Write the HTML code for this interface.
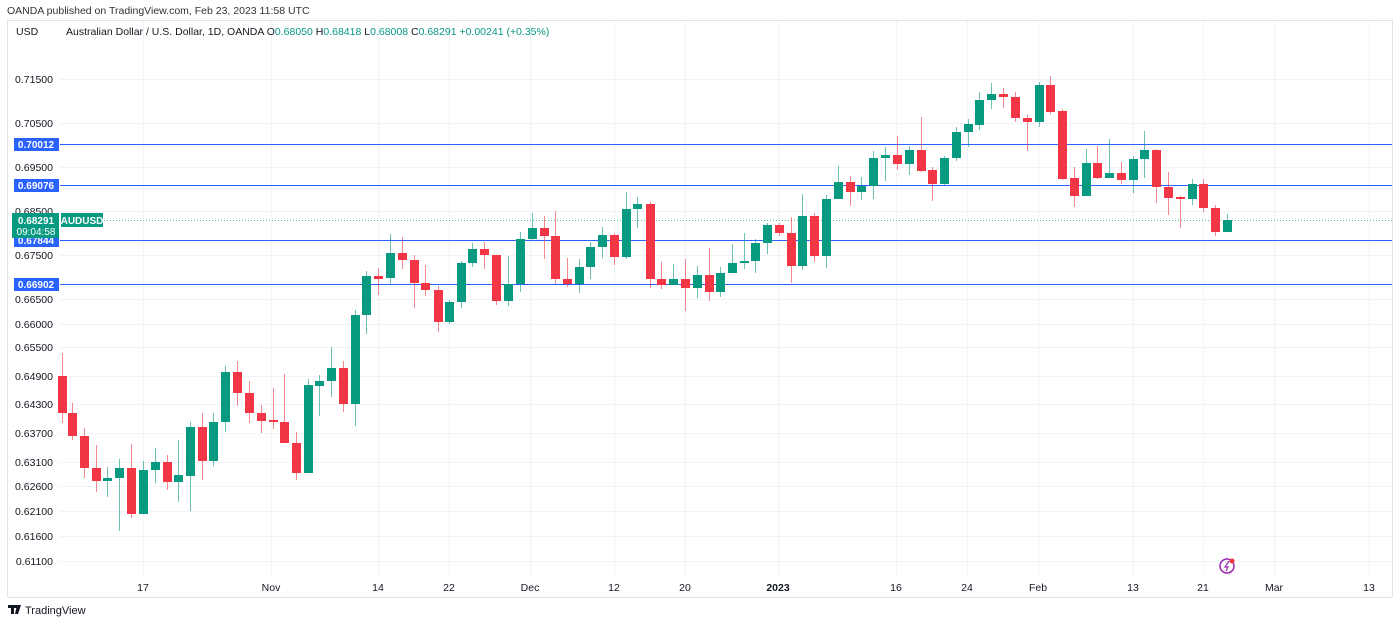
<!DOCTYPE html>
<html><head><meta charset="utf-8"><style>
body{margin:0;background:#fff;width:1400px;height:624px;overflow:hidden;font-family:"Liberation Sans",sans-serif}
</style></head><body>
<svg width="1400" height="624" xmlns="http://www.w3.org/2000/svg" font-family="Liberation Sans, sans-serif">
<text x="7" y="14" font-size="10.5" fill="#333">OANDA published on TradingView.com, Feb 23, 2023 11:58 UTC</text>
<rect x="7.5" y="20.5" width="1385" height="577" fill="none" stroke="#e0e3eb"/>
<g stroke="#f0f3fa" stroke-width="1">
<line x1="60" x2="1392" y1="79.5" y2="79.5"/><line x1="60" x2="1392" y1="123.5" y2="123.5"/><line x1="60" x2="1392" y1="167.5" y2="167.5"/><line x1="60" x2="1392" y1="211.5" y2="211.5"/><line x1="60" x2="1392" y1="255.5" y2="255.5"/><line x1="60" x2="1392" y1="299.5" y2="299.5"/><line x1="60" x2="1392" y1="324.5" y2="324.5"/><line x1="60" x2="1392" y1="347.5" y2="347.5"/><line x1="60" x2="1392" y1="376.5" y2="376.5"/><line x1="60" x2="1392" y1="404.5" y2="404.5"/><line x1="60" x2="1392" y1="433.5" y2="433.5"/><line x1="60" x2="1392" y1="462.5" y2="462.5"/><line x1="60" x2="1392" y1="486.5" y2="486.5"/><line x1="60" x2="1392" y1="511.5" y2="511.5"/><line x1="60" x2="1392" y1="536.5" y2="536.5"/><line x1="60" x2="1392" y1="561.5" y2="561.5"/>
<line x1="143.5" x2="143.5" y1="21" y2="575"/><line x1="271.5" x2="271.5" y1="21" y2="575"/><line x1="378.5" x2="378.5" y1="21" y2="575"/><line x1="449.5" x2="449.5" y1="21" y2="575"/><line x1="530.5" x2="530.5" y1="21" y2="575"/><line x1="614.5" x2="614.5" y1="21" y2="575"/><line x1="685.5" x2="685.5" y1="21" y2="575"/><line x1="778.5" x2="778.5" y1="21" y2="575"/><line x1="896.5" x2="896.5" y1="21" y2="575"/><line x1="967.5" x2="967.5" y1="21" y2="575"/><line x1="1038.5" x2="1038.5" y1="21" y2="575"/><line x1="1133.5" x2="1133.5" y1="21" y2="575"/><line x1="1203.5" x2="1203.5" y1="21" y2="575"/><line x1="1274.5" x2="1274.5" y1="21" y2="575"/><line x1="1369.5" x2="1369.5" y1="21" y2="575"/>
</g>
<text x="16" y="35" font-size="10.5" fill="#131722">USD</text>
<text x="66" y="35" font-size="10.5" fill="#131722">Australian Dollar / U.S. Dollar, 1D, OANDA  O<tspan fill="#089981">0.68050</tspan>  H<tspan fill="#089981">0.68418</tspan>  L<tspan fill="#089981">0.68008</tspan>  C<tspan fill="#089981">0.68291  +0.00241 (+0.35%)</tspan></text>
<g font-size="10.5" fill="#131722" text-anchor="end">
<text x="53" y="83">0.71500</text><text x="53" y="127">0.70500</text><text x="53" y="171">0.69500</text><text x="53" y="215">0.68500</text><text x="53" y="259">0.67500</text><text x="53" y="303">0.66500</text><text x="53" y="328">0.66000</text><text x="53" y="351">0.65500</text><text x="53" y="380">0.64900</text><text x="53" y="408">0.64300</text><text x="53" y="437">0.63700</text><text x="53" y="466">0.63100</text><text x="53" y="490">0.62600</text><text x="53" y="515">0.62100</text><text x="53" y="540">0.61600</text><text x="53" y="565">0.61100</text>
</g>
<g stroke="#2962ff" stroke-width="1">
<line x1="60" x2="1392" y1="144.5" y2="144.5"/><line x1="60" x2="1392" y1="185.5" y2="185.5"/><line x1="60" x2="1392" y1="240.5" y2="240.5"/><line x1="60" x2="1392" y1="284.5" y2="284.5"/>
</g>
<line x1="104" x2="1392" y1="220.5" y2="220.5" stroke="#089981" stroke-dasharray="1,2" opacity="0.7"/>
<path fill="none" stroke="#f23645" stroke-opacity="0.6" d="M62.5 353V423M72.5 403V440M84.5 428V478M96.5 445V492M131.5 444V518M167.5 455V490M202.5 413V480M237.5 361V406M249.5 381V423M261.5 405V433M273.5 388V429M284.5 374V443M296.5 432V480M343.5 361V412M378.5 268V295M402.5 237V269M414.5 255V308M425.5 265V296M438.5 286V332M484.5 242V269M496.5 255V305M544.5 216V259M555.5 211V284M567.5 258V287M614.5 233V265M650.5 202V288M661.5 262V289M685.5 259V311M709.5 248V301M779.5 223V236M791.5 217V283M814.5 213V262M850.5 176V206M897.5 136V170M921.5 117V172M932.5 167V201M1003.5 88V108M1015.5 92V122M1027.5 115V151M1050.5 76V114M1062.5 109V180M1074.5 167V207M1097.5 146V179M1121.5 162V184M1156.5 149V203M1168.5 172V215M1180.5 196V228M1203.5 179V212M1215.5 205V236"/>
<path fill="#f23645" d="M58 376h9v37h-9zM68 413h9v23h-9zM80 436h9v32h-9zM92 468h9v13h-9zM127 468h9v46h-9zM163 462h9v20h-9zM198 427h9v34h-9zM233 372h9v21h-9zM245 393h9v20h-9zM257 413h9v8h-9zM269 420h9v2h-9zM280 422h9v21h-9zM292 443h9v30h-9zM339 368h9v36h-9zM374 276h9v3h-9zM398 253h9v7h-9zM410 260h9v23h-9zM421 283h9v7h-9zM434 290h9v32h-9zM480 249h9v6h-9zM492 255h9v46h-9zM540 228h9v8h-9zM551 236h9v43h-9zM563 279h9v5h-9zM610 235h9v22h-9zM646 204h9v75h-9zM657 279h9v6h-9zM681 279h9v9h-9zM705 275h9v17h-9zM775 225h9v8h-9zM787 233h9v33h-9zM810 216h9v40h-9zM846 182h9v10h-9zM893 155h9v9h-9zM917 150h9v21h-9zM928 170h9v14h-9zM999 94h9v3h-9zM1011 97h9v21h-9zM1023 118h9v4h-9zM1046 85h9v27h-9zM1058 111h9v68h-9zM1070 178h9v18h-9zM1093 163h9v15h-9zM1117 173h9v7h-9zM1152 150h9v37h-9zM1164 187h9v11h-9zM1176 197h9v2h-9zM1199 184h9v24h-9zM1211 208h9v24h-9z"/>
<path fill="none" stroke="#089981" stroke-opacity="0.6" d="M107.5 467V497M119.5 459V531M143.5 461V514M155.5 448V483M178.5 440V502M190.5 422V511M213.5 413V466M225.5 366V432M308.5 379V473M319.5 375V416M331.5 347V397M355.5 310V426M366.5 271V334M390.5 234V285M449.5 300V324M461.5 261V308M472.5 243V267M508.5 256V306M520.5 232V292M532.5 213V241M579.5 259V293M590.5 242V279M602.5 227V258M626.5 192V259M637.5 197V228M673.5 264V285M697.5 266V298M720.5 267V297M732.5 244V273M744.5 233V269M755.5 239V273M767.5 223V254M802.5 194V270M826.5 195V268M838.5 166V199M861.5 177V200M873.5 151V199M885.5 147V181M909.5 146V175M944.5 156V185M956.5 127V161M968.5 119V147M979.5 92V130M991.5 83V109M1039.5 82V127M1086.5 149V196M1109.5 139V178M1133.5 156V193M1144.5 131V178M1192.5 179V205M1227.5 214V232"/>
<path fill="#089981" d="M103 478h9v3h-9zM115 468h9v10h-9zM139 470h9v44h-9zM151 462h9v8h-9zM174 475h9v7h-9zM186 427h9v49h-9zM209 422h9v39h-9zM221 372h9v50h-9zM304 385h9v88h-9zM315 381h9v5h-9zM327 368h9v13h-9zM351 315h9v89h-9zM362 276h9v39h-9zM386 253h9v25h-9zM445 302h9v20h-9zM457 263h9v39h-9zM468 249h9v14h-9zM504 284h9v17h-9zM516 239h9v45h-9zM528 228h9v11h-9zM575 267h9v17h-9zM586 247h9v20h-9zM598 235h9v12h-9zM622 209h9v48h-9zM633 204h9v5h-9zM669 279h9v6h-9zM693 275h9v13h-9zM716 273h9v19h-9zM728 263h9v10h-9zM740 261h9v2h-9zM751 243h9v18h-9zM763 225h9v18h-9zM798 216h9v50h-9zM822 199h9v57h-9zM834 182h9v17h-9zM857 186h9v6h-9zM869 158h9v28h-9zM881 155h9v3h-9zM905 150h9v14h-9zM940 158h9v26h-9zM952 132h9v26h-9zM964 124h9v8h-9zM975 100h9v25h-9zM987 94h9v6h-9zM1035 85h9v37h-9zM1082 163h9v33h-9zM1105 173h9v5h-9zM1129 159h9v21h-9zM1140 150h9v9h-9zM1188 184h9v15h-9zM1223 220h9v12h-9z"/>
<g font-size="10" font-weight="bold" fill="#fff" text-anchor="middle">
<rect x="14" y="138" width="45" height="13" fill="#2962ff"/><text x="36" y="148">0.70012</text>
<rect x="14" y="179" width="45" height="13" fill="#2962ff"/><text x="36" y="189">0.69076</text>
<rect x="14" y="234" width="45" height="13" fill="#2962ff"/><text x="36" y="244">0.67844</text>
<rect x="14" y="278" width="45" height="13" fill="#2962ff"/><text x="36" y="288">0.66902</text>
<rect x="12" y="213" width="47" height="25" fill="#089981"/><text x="36" y="224">0.68291</text><text x="36" y="235" font-weight="normal">09:04:58</text>
<rect x="61" y="213" width="42" height="14" fill="#089981"/><text x="82" y="224">AUDUSD</text>
</g>
<g font-size="10.5" fill="#131722" text-anchor="middle">
<text x="143" y="591">17</text><text x="271" y="591">Nov</text><text x="378" y="591">14</text><text x="449" y="591">22</text><text x="530" y="591">Dec</text><text x="614" y="591">12</text><text x="685" y="591">20</text><text x="778" y="591" font-weight="bold">2023</text><text x="896" y="591">16</text><text x="967" y="591">24</text><text x="1038" y="591">Feb</text><text x="1133" y="591">13</text><text x="1203" y="591">21</text><text x="1274" y="591">Mar</text><text x="1369" y="591">13</text>
</g>
<circle cx="1227" cy="566" r="7" fill="none" stroke="#9c27b0" stroke-width="1.5"/>
<path d="M1229 561 L1225 567 L1228 567 L1226 571" fill="none" stroke="#9c27b0" stroke-width="1.2"/>
<circle cx="1232" cy="561" r="2.5" fill="#f23645"/>
<g fill="#131722"><rect x="8" y="605" width="9" height="3"/><rect x="11" y="605" width="3" height="9"/><path d="M17 605 L21 605 L18 614 L15 614Z"/></g>
<text x="25" y="614" font-size="11" fill="#131722">TradingView</text>
</svg>
</body></html>
